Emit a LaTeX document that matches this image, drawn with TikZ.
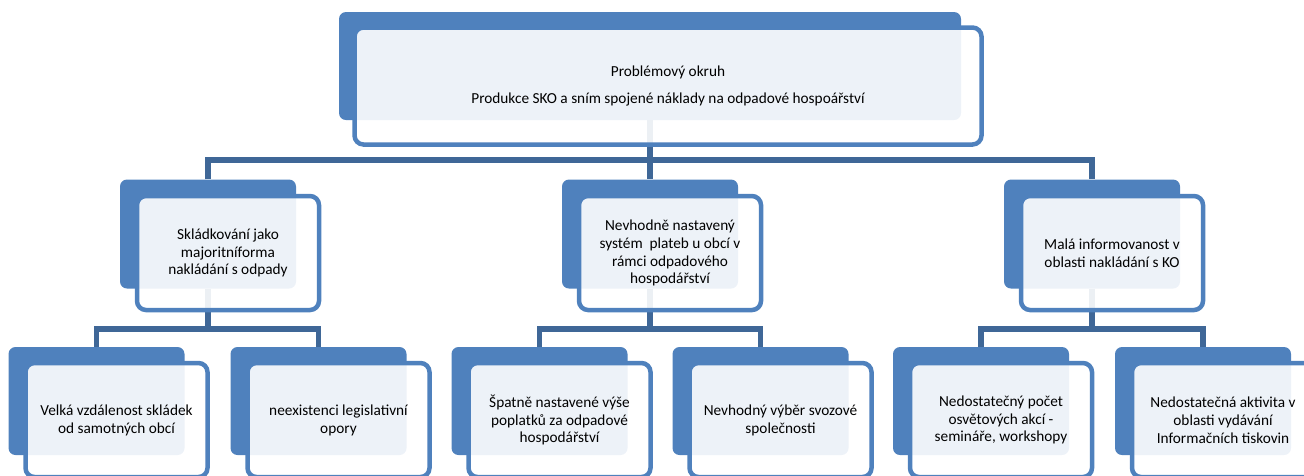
\documentclass[tikz,border=0pt]{standalone}
\usepackage{fontspec}
\setmainfont{Carlito}
\usepackage{xcolor}
\usepackage{tikz}

\definecolor{boxblau}{HTML}{4F81BD}
\definecolor{linienblau}{HTML}{3F6797}

\tikzset{
  hinten/.style={fill=boxblau, rounded corners=7pt, inner sep=0pt},
  vorne/.style={draw=boxblau, line width=4.5pt, fill=white, fill opacity=0.9,
    text opacity=1, rounded corners=9pt, inner sep=0pt, align=center,
    minimum width=182pt, minimum height=114pt},
  verbinder/.style={draw=linienblau, line width=5.5pt}
}

\begin{document}
\begin{tikzpicture}[x=1pt,y=-1pt,font=\fontsize{15.3}{17.9}\selectfont]
				\useasboundingbox (0,0) rectangle (1304,475);
				\clip (0,0) rectangle (1304,475);
				% Hintergrund-Rechtecke
				\node[hinten, minimum width=622pt, minimum height=108pt] (top-b) at (650,66) {};
				\node[hinten, minimum width=176pt, minimum height=109pt] (s1-b) at (208,234) {};
				\node[hinten, minimum width=176pt, minimum height=109pt] (s2-b) at (650,234) {};
				\node[hinten, minimum width=176pt, minimum height=109pt] (s3-b) at (1092,234) {};
				\node[hinten, minimum width=176pt, minimum height=108pt] (p1-b) at (96.5,401) {};
				\node[hinten, minimum width=176pt, minimum height=108pt] (p2-b) at (318.5,401) {};
				\node[hinten, minimum width=176pt, minimum height=108pt] (p3-b) at (539.5,401) {};
				\node[hinten, minimum width=176pt, minimum height=108pt] (p4-b) at (760.5,401) {};
				\node[hinten, minimum width=176pt, minimum height=108pt] (p5-b) at (981,401) {};
				\node[hinten, minimum width=176pt, minimum height=108pt] (p6-b) at (1203,401) {};
				% Verbindungslinien
				\coordinate (bar0) at (650,160);
				\coordinate (bar1) at (208,329);
				\coordinate (bar2) at (650,329);
				\coordinate (bar3) at (1092,329);
				\draw[verbinder] (top-b.south) -- (bar0);
				\draw[verbinder] (s1-b.north) |- (bar0) -| (s3-b.north);
				\draw[verbinder] (bar0) -- (s2-b.north);
				\draw[verbinder] (s1-b.south) -- (bar1);
				\draw[verbinder] (p1-b.north) |- (bar1) -| (p2-b.north);
				\draw[verbinder] (s2-b.south) -- (bar2);
				\draw[verbinder] (p3-b.north) |- (bar2) -| (p4-b.north);
				\draw[verbinder] (s3-b.south) -- (bar3);
				\draw[verbinder] (p5-b.north) |- (bar3) -| (p6-b.north);
				% Problemkreis
				\node[vorne, minimum width=627pt, minimum height=117pt] (top) at (668,86)
					{Problémový okruh\\[9pt]Produkce SKO a sním spojené náklady na odpadové hospoářství};
				% Ursachen
				\node[vorne] (s1) at (228,253) {Skládkování jako\\majoritníforma\\nakládání s odpady};
				\node[vorne] (s2) at (670,253) {Nevhodně nastavený\\systém \ plateb u obcí v\\rámci odpadového\\hospodářství};
				\node[vorne] (s3) at (1112,253) {Malá informovanost v\\oblasti nakládání s KO};
				% Teilursachen
				\node[vorne] (p1) at (116.5,420) {Velká vzdálenost skládek\\od samotných obcí};
				\node[vorne] (p2) at (338.5,420) {neexistenci legislativní\\opory};
				\node[vorne] (p3) at (559.5,420) {Špatně nastavené výše\\poplatků za odpadové\\hospodářství};
				\node[vorne] (p4) at (780.5,420) {Nevhodný výběr svozové\\společnosti};
				\node[vorne] (p5) at (1001,420) {Nedostatečný počet\\osvětových akcí -\\semináře, workshopy};
				\node[vorne] (p6) at (1223,420) {Nedostatečná aktivita v\\oblasti vydávání\\Informačních tiskovin};
			\end{tikzpicture}
\end{document}
